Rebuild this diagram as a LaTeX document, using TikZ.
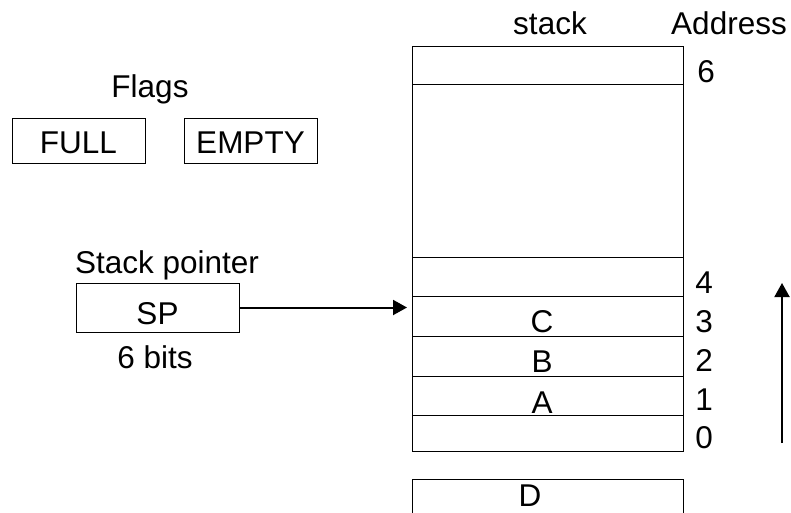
\documentclass[tikz,border=0pt]{standalone}
\usepackage{fontspec}
\setmainfont{Liberation Sans}
\usetikzlibrary{arrows.meta}
\begin{document}
\begin{tikzpicture}[x=1pt,y=-1pt,
  every node/.style={font=\fontsize{31.5}{38}\selectfont, inner sep=0pt, outer sep=0pt},
  box/.style={draw=black, line width=1pt, rectangle},
  cell/.style={box, minimum width=271pt},
  txt/.style={anchor=base},
  arr/.style={line width=2pt, -{Triangle[length=14pt,width=15pt]}}]
\useasboundingbox (0,0) rectangle (791,512);
\clip (0,0) rectangle (791,512);
% headings
\node[txt] (stacklbl) at (550,34) {stack};
\node[txt] (addrlbl) at (729,34) {Address};
\node[txt] (flags) at (150,97) {Flags};
\node[txt] (splbl) at (167,273) {Stack pointer};
\node[txt] (bits) at (155,368) {6 bits};
% flag boxes
\node[box, minimum width=133pt, minimum height=45pt, text height=25pt, text depth=0pt] (full) at (78.5,140.5) {FULL};
\node[box, minimum width=133pt, minimum height=45pt, text height=25pt, text depth=0pt] (empty) at (250.5,140.5) {EMPTY};
% stack pointer
\node[box, minimum width=163pt, minimum height=49pt, text height=33pt, text depth=0pt] (sp) at (157.5,307.5) {SP};
% stack cells
\node[cell, minimum height=38pt] (r6) at (547.5,65) {};
\node[cell, minimum height=173pt] (rgap) at (547.5,170.5) {};
\node[cell, minimum height=39pt] (r4) at (547.5,276.5) {};
\node[cell, minimum height=40pt] (r3) at (547.5,316) {};
\node[cell, minimum height=40pt] (r2) at (547.5,356) {};
\node[cell, minimum height=39pt] (r1) at (547.5,395.5) {};
\node[cell, minimum height=36pt] (r0) at (547.5,433) {};
\node[cell, minimum height=44pt] (rd) at (547.5,501) {};
% cell contents
\node[txt] (c) at (542,332) {C};
\node[txt] (b) at (542,372) {B};
\node[txt] (a) at (542,413) {A};
\node[txt] (d) at (530,506) {D};
% addresses
\node[txt] (a6) at (706,82) {6};
\node[txt] (a4) at (704,293) {4};
\node[txt] (a3) at (704,332) {3};
\node[txt] (a2) at (704,371) {2};
\node[txt] (a1) at (704,410) {1};
\node[txt] (a0) at (704,448) {0};
% arrows
\coordinate (ptr) at (407,307.5);
\draw[arr] (sp.east) -- (ptr);
\coordinate (upS) at (782,443);
\coordinate (upE) at (782,283);
\draw[arr] (upS) -- (upE);
\end{tikzpicture}
\end{document}
